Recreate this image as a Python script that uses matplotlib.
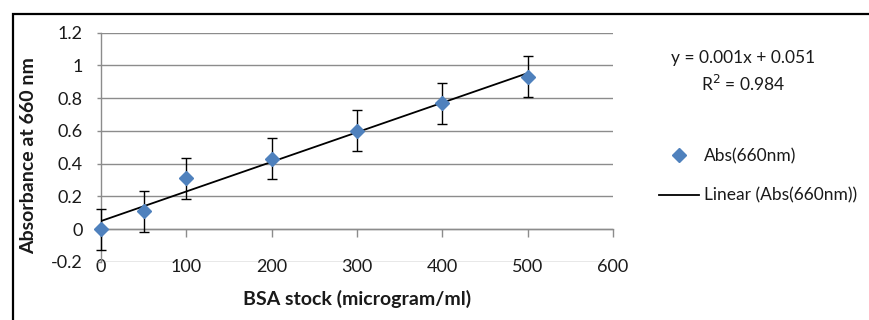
import numpy as np
import matplotlib
matplotlib.use("Agg")
import matplotlib.pyplot as plt
from matplotlib.patches import Rectangle
from matplotlib.lines import Line2D

plt.rcParams['font.family'] = ['Lato', 'DejaVu Sans']

# BSA standard curve data
concentration = [0, 50, 100, 200, 300, 400, 500]
absorbance = [0.0, 0.11, 0.31, 0.43, 0.60, 0.77, 0.93]
abs_error = [0.125, 0.125, 0.125, 0.125, 0.125, 0.125, 0.125]

x_ticks = [0, 100, 200, 300, 400, 500, 600]
y_ticks = [-0.2, 0, 0.2, 0.4, 0.6, 0.8, 1.0, 1.2]
y_tick_labels = ['-0.2', '0', '0.2', '0.4', '0.6', '0.8', '1', '1.2']

equation_text = "y = 0.001x + 0.051"
r2_text = "R$^2$ = 0.984"
series_name = "Abs(660nm)"
trend_name = "Linear (Abs(660nm))"

blue = '#4F81BD'
grid_gray = '#8C8C8C'
text_col = '#1A1A1A'

fig = plt.figure(figsize=(8.69, 3.2), dpi=100)
ax = fig.add_axes([101 / 869, 1 - 262 / 320, 512 / 869, (262 - 32.7) / 320])

ax.set_xlim(0, 600)
ax.set_ylim(-0.2, 1.2)

# horizontal gridlines
ax.set_yticks(y_ticks)
ax.set_yticklabels(y_tick_labels)
ax.yaxis.grid(True, color=grid_gray, lw=1.0)
ax.set_axisbelow(True)

for side in ['top', 'right']:
    ax.spines[side].set_visible(False)
ax.spines['left'].set_color(grid_gray)
ax.spines['left'].set_linewidth(1.0)
ax.spines['bottom'].set_position(('data', 0))
ax.spines['bottom'].set_color(grid_gray)
ax.spines['bottom'].set_linewidth(1.0)

ax.set_xticks(x_ticks)
ax.set_xticklabels([str(v) for v in x_ticks])
ax.tick_params(axis='x', direction='out', length=5.5, width=1.0, color=grid_gray,
               pad=16, labelsize=13, labelcolor=text_col)
ax.tick_params(axis='y', direction='out', length=3, width=1.0, color=grid_gray,
               pad=10, labelsize=13, labelcolor=text_col)

# linear trendline over the data range
slope, intercept = np.polyfit(concentration, absorbance, 1)
xfit = np.array([min(concentration), max(concentration)])
ax.plot(xfit, slope * xfit + intercept, color='black', lw=1.3, zorder=3)

# data points with error bars
eb = ax.errorbar(concentration, absorbance, yerr=abs_error, fmt='none', ecolor='black',
                 elinewidth=1.0, capsize=3.3, capthick=1.0, zorder=4)
for artist in eb.lines[1] + eb.lines[2]:
    artist.set_clip_on(False)
ax.plot(concentration, absorbance, linestyle='none', marker='D', markersize=7.3,
        color=blue, markeredgecolor=blue, zorder=5, clip_on=False)

ax.set_xlabel("BSA stock (microgram/ml)", fontsize=14, fontweight='bold',
              color=text_col)
ax.xaxis.set_label_coords(0.5, -0.12)
ax.set_ylabel("Absorbance at 660 nm", fontsize=14, fontweight='bold',
              color=text_col)
ax.yaxis.set_label_coords(-0.125, 0.465)

# trendline equation
fig.text(743 / 869, 1 - 58 / 320, equation_text, ha='center', va='center',
         fontsize=12.5, color=text_col)
fig.text(743 / 869, 1 - 84 / 320, r2_text, ha='center', va='center',
         fontsize=12.5, color=text_col)

# legend
handles = [
    Line2D([], [], linestyle='none', marker='D', markersize=7.3, color=blue),
    Line2D([], [], color='black', lw=1.3),
]
fig.legend(handles, [series_name, trend_name], loc='upper left',
           bbox_to_anchor=(659 / 869, 1 - 148 / 320), frameon=False,
           fontsize=12.5, handlelength=2.3, handletextpad=0.3,
           labelspacing=1.35, borderaxespad=0, borderpad=0,
           labelcolor=text_col)

# outer chart frame
fig.add_artist(Rectangle((12.5 / 869, -0.5), 2.0, (1 - 13.5 / 320) + 0.5,
                         transform=fig.transFigure, fill=False,
                         edgecolor='black', lw=1.6))

fig.savefig("out.png", dpi=100)
